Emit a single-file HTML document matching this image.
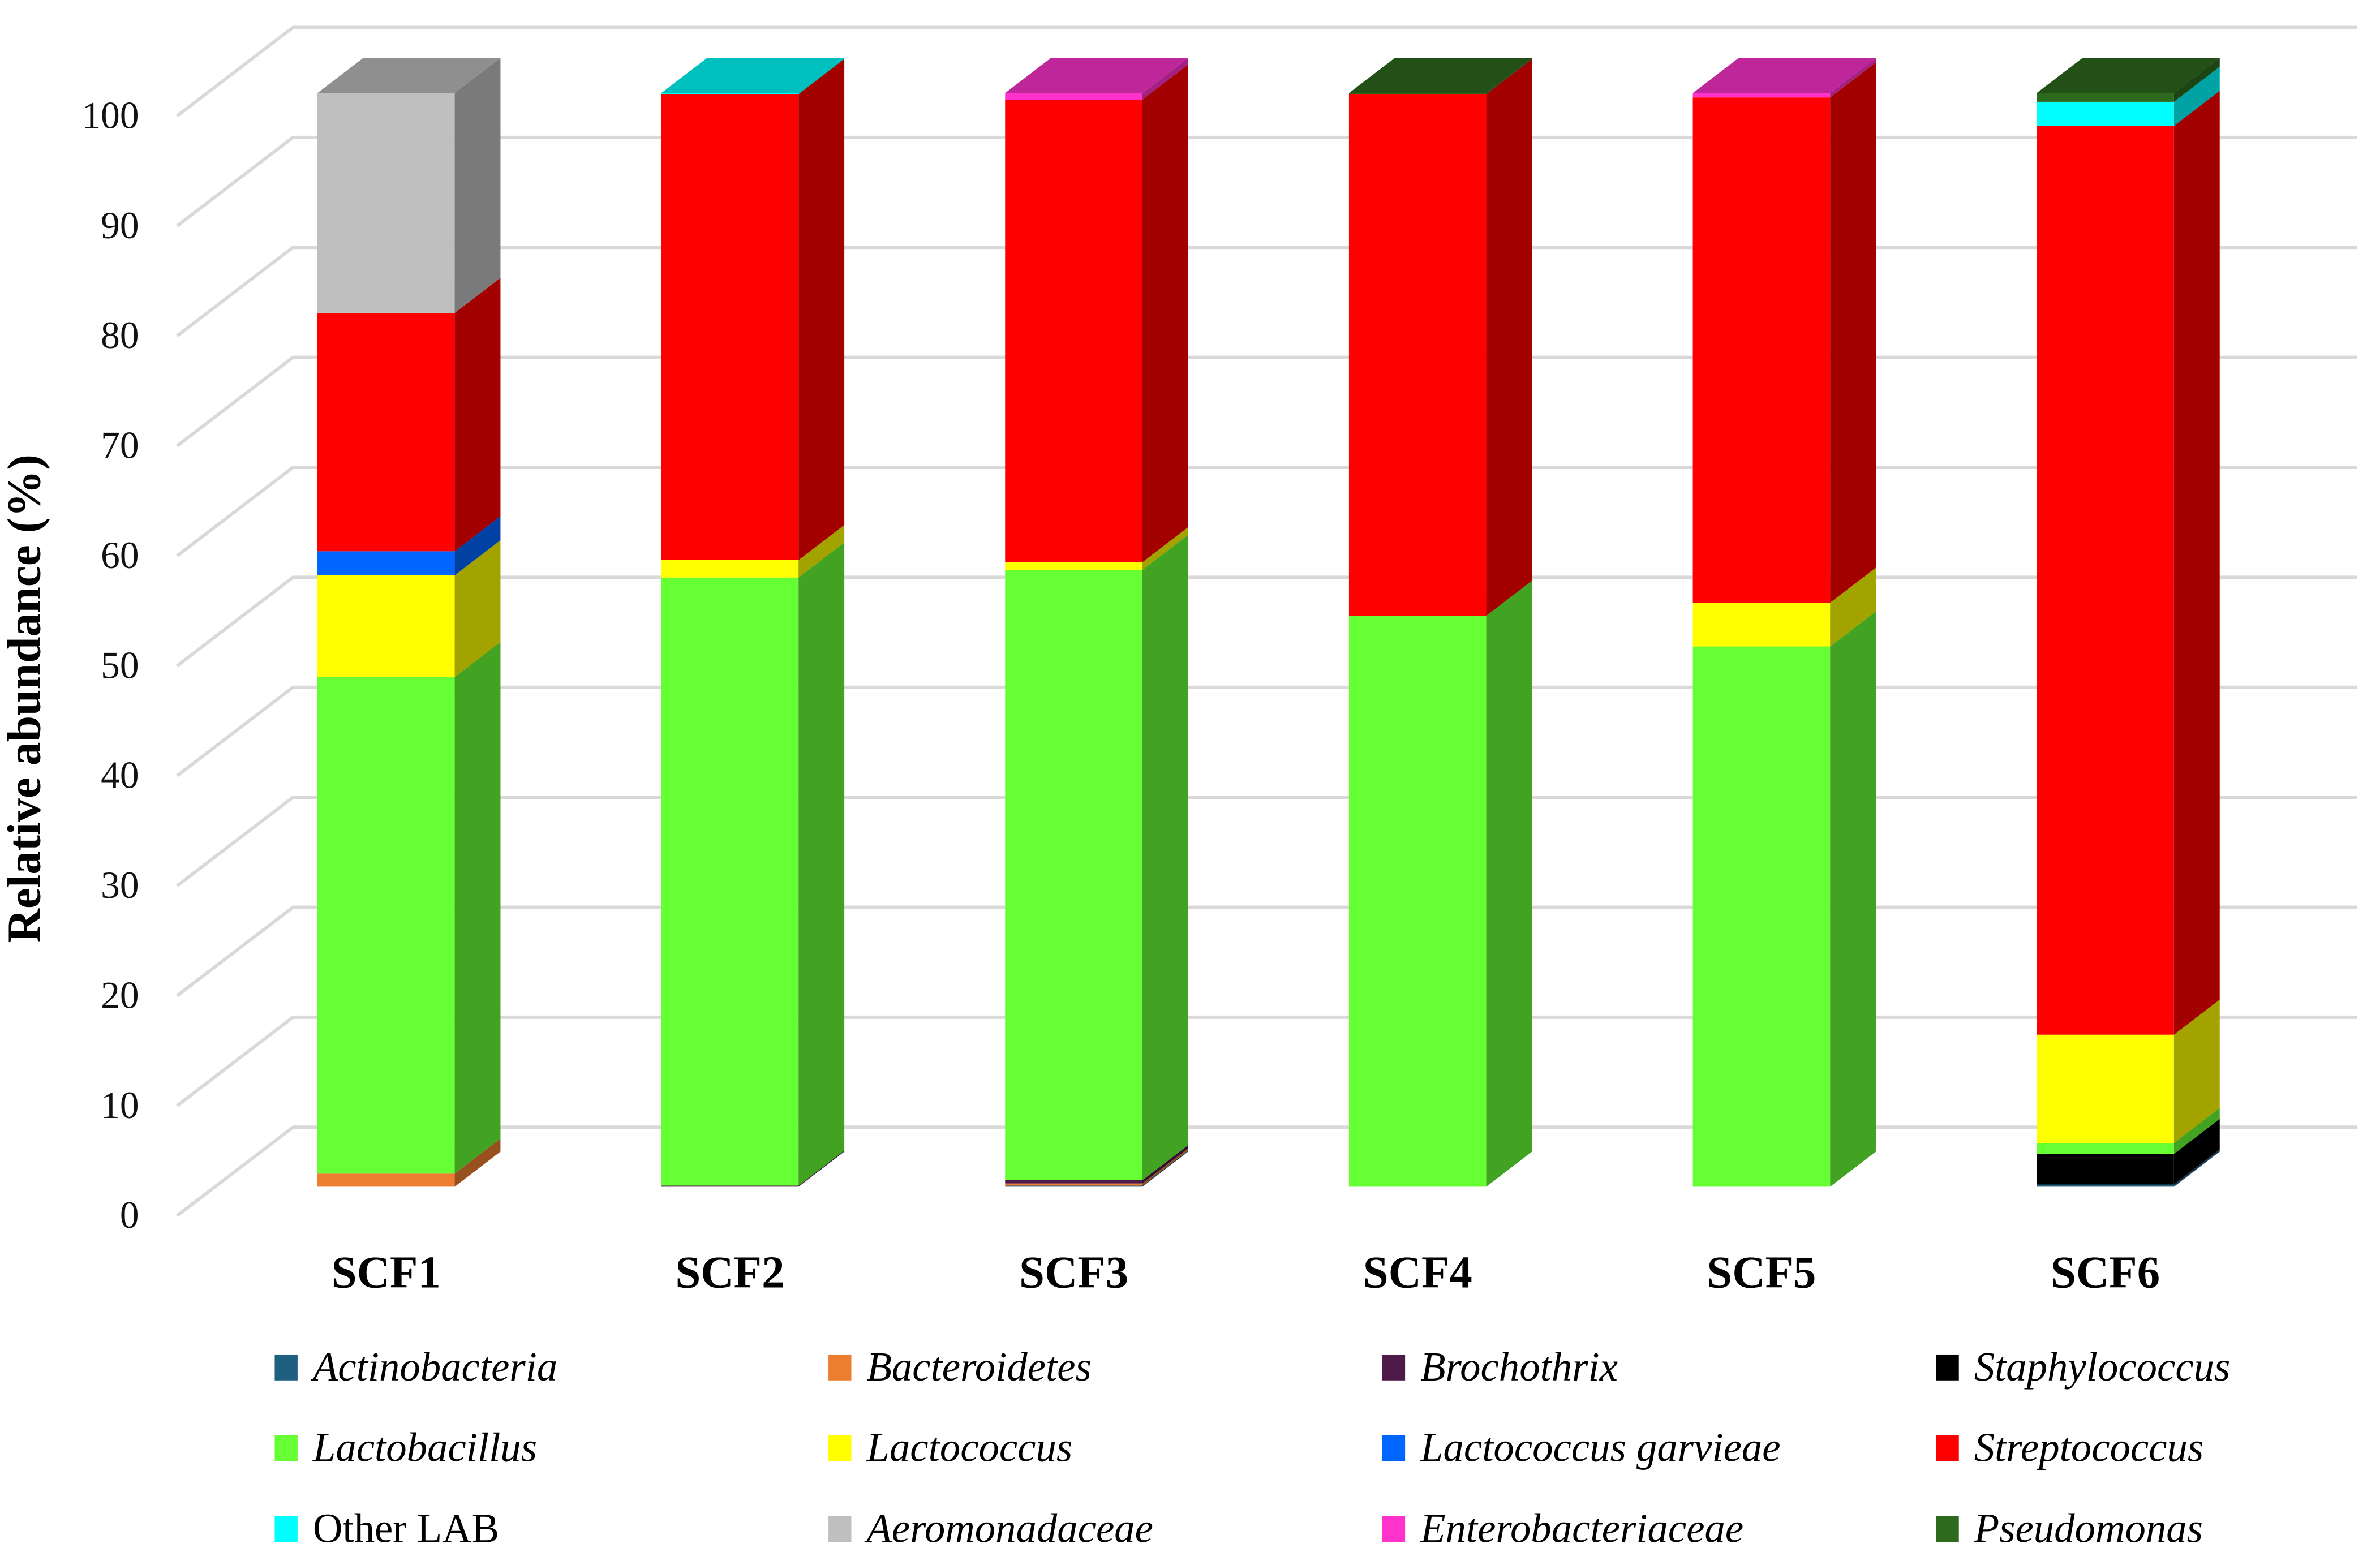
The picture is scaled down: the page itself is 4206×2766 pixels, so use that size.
<!DOCTYPE html>
<html><head><meta charset="utf-8">
<style>
html,body{margin:0;padding:0;background:#fff;}
svg{display:block;}
text{font-family:"Liberation Serif",serif;}
</style></head>
<body>
<svg id="chart" width="4206" height="2766" viewBox="0 0 1560 1026" xmlns="http://www.w3.org/2000/svg">
<rect x="0" y="0" width="1560" height="1026" fill="#fff"/>
<g id="grid"></g>
<g id="ticks"></g>
<g id="bars"></g>
<g id="cats"></g>
<text transform="translate(34,458) rotate(-90)" text-anchor="middle" font-size="31" font-weight="bold" x="0" y="-8">Relative abundance (%)</text>
<g id="legend"></g>
</svg>
<script>
const categories = ["SCF1","SCF2","SCF3","SCF4","SCF5","SCF6"];
const taxa = ["Actinobacteria","Bacteroidetes","Brochothrix","Staphylococcus","Lactobacillus","Lactococcus","Lactococcus garvieae","Streptococcus","Other LAB","Aeromonadaceae","Enterobacteriaceae","Pseudomonas"];
const italicTaxa = [true,true,true,true,true,true,true,true,false,true,true,true];
const colors = ["#1f5f80","#ed7d31","#4e1a4a","#000000","#66ff33","#ffff00","#0066ff","#ff0000","#00ffff","#bfbfbf","#ff33cc","#2d6a1e"];
// values per taxon, one per sample (SCF1..SCF6)
const actinobacteria     = [0,   0,   0.1, 0,   0,   0.2];
const bacteroidetes      = [1.2, 0,   0.2, 0,   0,   0];
const brochothrix        = [0,   0.1, 0.3, 0,   0,   0];
const staphylococcus     = [0,   0,   0,   0,   0,   2.8];
const lactobacillus      = [45.4,55.6,55.8,52.2,49.4,1.0];
const lactococcus        = [9.3, 1.6, 0.7, 0,   4.0, 9.9];
const lactococcusGarv    = [2.2, 0,   0,   0,   0,   0];
const streptococcus      = [21.8,42.6,42.3,47.7,46.2,83.1];
const otherLAB           = [0,   0.1, 0,   0,   0,   2.2];
const aeromonadaceae     = [20.1,0,   0,   0,   0,   0];
const enterobacteriaceae = [0,   0,   0.6, 0,   0.4, 0];
const pseudomonas        = [0,   0,   0,   0.1, 0,   0.8];
const series = [actinobacteria,bacteroidetes,brochothrix,staphylococcus,lactobacillus,lactococcus,lactococcusGarv,streptococcus,otherLAB,aeromonadaceae,enterobacteriaceae,pseudomonas];
const yTicks = [0,10,20,30,40,50,60,70,80,90,100];

const NS="http://www.w3.org/2000/svg";
function mk(tag,attrs,parent){const e=document.createElementNS(NS,tag);for(const k in attrs)e.setAttribute(k,attrs[k]);parent.appendChild(e);return e;}
function shade(hex,f){const n=parseInt(hex.slice(1),16);const r=Math.round(((n>>16)&255)*f),g=Math.round(((n>>8)&255)*f),b=Math.round((n&255)*f);return "rgb("+r+","+g+","+b+")";}
const yLabel = v => 797 - v*7.21;
const yBar = v => 778 - v*7.17;
const xBar = i => 208 + i*225.4;
const barW = 90, dX = 30, dY = -23;
const gDX = 76, gDY = -58;

const grid=document.getElementById('grid'), ticks=document.getElementById('ticks');
yTicks.forEach(v=>{
  const y=yLabel(v);
  let l=mk('polyline',{points:(116)+","+y+" "+(116+gDX)+","+(y+gDY)+" 1545,"+(y+gDY),fill:"none",stroke:"#d9d9d9","stroke-width":2.2},grid);
  
  
  let t=mk('text',{x:91,y:y+8,"text-anchor":"end","font-size":25,fill:"#111"},ticks);
  t.textContent=v;
  
  
});

const bars=document.getElementById('bars'), cats=document.getElementById('cats');
categories.forEach((c,i)=>{
  const g=mk('g',{},bars);
  
  
  const x=xBar(i);
  let cum=0, topIdx=-1;
  series.forEach((s,k)=>{ if(s[i]>0) topIdx=k; });
  series.forEach((s,k)=>{
    const v=s[i]; if(!(v>0)) return;
    const y0=yBar(cum), y1=yBar(cum+v); cum+=v;
    const f=mk('rect',{x:x,y:y1,width:barW,height:y0-y1,fill:colors[k]},g);
    
    
    const sd=mk('polygon',{points:(x+barW)+","+y1+" "+(x+barW+dX)+","+(y1+dY)+" "+(x+barW+dX)+","+(y0+dY)+" "+(x+barW)+","+y0,fill:shade(colors[k],0.64)},g);
    
    
    if(k===topIdx){
      const tp=mk('polygon',{points:x+","+y1+" "+(x+dX)+","+(y1+dY)+" "+(x+barW+dX)+","+(y1+dY)+" "+(x+barW)+","+y1,fill:shade(colors[k],0.75)},g);
      
      
    }
  });
  const t=mk('text',{x:x+barW/2,y:844,"text-anchor":"middle","font-size":30,"font-weight":"bold"},cats);
  t.textContent=c;
  
  
});

const legend=document.getElementById('legend');
const colX=[180,543,906,1269], rowY=[896,949,1002];
taxa.forEach((n,k)=>{
  const cx=colX[k%4], cy=rowY[Math.floor(k/4)];
  const g=mk('g',{},legend);
  
  
  mk('rect',{x:cx,y:cy-8,width:15,height:17,fill:colors[k]},g);
  const t=mk('text',{x:cx+25,y:cy+9,"font-size":27,"font-style":italicTaxa[k]?"italic":"normal"},g);
  t.textContent=n;
});
</script>
</body></html>
